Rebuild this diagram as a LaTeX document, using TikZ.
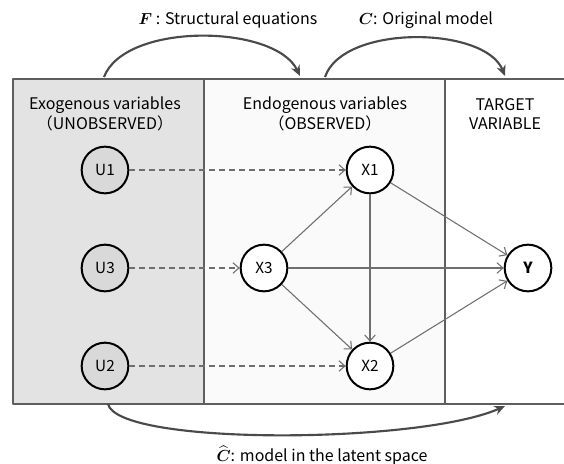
\documentclass[tikz,border=0pt]{standalone}
\usepackage{fontspec}
\usepackage{amsmath}
\setmainfont{Noto Sans CJK JP}
\usetikzlibrary{arrows.meta}
\definecolor{exofill}{HTML}{E3E3E3}
\definecolor{endofill}{HTML}{FAFAFA}
\definecolor{ufill}{HTML}{D9D9D9}
\definecolor{framegray}{HTML}{5E5E5E}
\definecolor{linkgray}{HTML}{6E6E6E}
\definecolor{arcgray}{HTML}{4A4A4A}
\begin{document}
\begin{tikzpicture}[
    x=0.75pt,
    y=-0.75pt,
    line join=round,
    var/.style={circle, draw=black, line width=1.5pt, minimum size=35pt,
        inner sep=0pt, font=\fontsize{11.5}{13}\selectfont},
    uvar/.style={var, fill=ufill},
    xvar/.style={var, fill=white},
    title/.style={align=center, font=\fontsize{12}{14.5}\selectfont},
    causal/.style={draw=linkgray, line width=0.8pt, -{Straight Barb[length=4.5pt,width=8pt]}},
    latent/.style={causal, dash pattern=on 4.5pt off 3pt},
    model/.style={draw=arcgray, line width=1.6pt, -{Stealth[length=8pt,width=7pt]}}
]
    \useasboundingbox (0,0) rectangle (564,464);

    % 背景
    \fill[exofill] (13,79) rectangle (204,404);
    \fill[endofill] (204,79) rectangle (445,404);
    \draw[framegray, line width=1.5pt] (564,79) -- (13,79) -- (13,404) -- (564,404);
    \draw[framegray, line width=1.5pt] (204,79) -- (204,404);
    \draw[framegray, line width=1.5pt] (445,79) -- (445,404);

    % 标题
    \node[title] (exo) at (105,114) {Exogenous variables\\（UNOBSERVED）};
    \node[title] (endo) at (325,114) {Endogenous variables\\（OBSERVED）};
    \node[title] (target) at (505,114) {TARGET\\VARIABLE};

    % 变量
    \node[uvar] (U1) at (105,170) {U1};
    \node[uvar] (U3) at (105,268) {U3};
    \node[uvar] (U2) at (105,366) {U2};
    \node[xvar] (X1) at (370,170) {X1};
    \node[xvar] (X3) at (264,268) {X3};
    \node[xvar] (X2) at (370,366) {X2};
    \node[xvar] (Y) at (528,268) {\textbf{Y}};

    % 外生 -> 内生
    \draw[latent] (U1) -- (X1);
    \draw[latent] (U3) -- (X3);
    \draw[latent] (U2) -- (X2);

    % 因果关系
    \draw[causal] (X3) -- (X1);
    \draw[causal] (X3) -- (X2);
    \draw[causal] (X3) -- (Y);
    \draw[causal] (X1) -- (X2);
    \draw[causal] (X1) -- (Y);
    \draw[causal] (X2) -- (Y);

    % 上方的弧
    \coordinate (Fs) at (104,77);
    \coordinate (Fe) at (300,76);
    \coordinate (Cs) at (325,77);
    \coordinate (Ce) at (505,76);
    \draw[model] (Fs) .. controls (125,22) and (275,24) .. (Fe);
    \draw[model] (Cs) .. controls (343,24) and (485,26) .. (Ce);
    \node[title] (lblF) at (228,20) {$\boldsymbol{F}$ : Structural equations};
    \node[title] (lblC) at (426,20) {$\boldsymbol{C}$: Original model};

    % 下方的弧
    \coordinate (Hs) at (108,404);
    \coordinate (He) at (505,406);
    \draw[model] (Hs) .. controls (118,446) and (420,444) .. (He);
    \node[title] (lblCh) at (322,456) {$\widehat{\boldsymbol{C}}$: model in the latent space};

\end{tikzpicture}
\end{document}
